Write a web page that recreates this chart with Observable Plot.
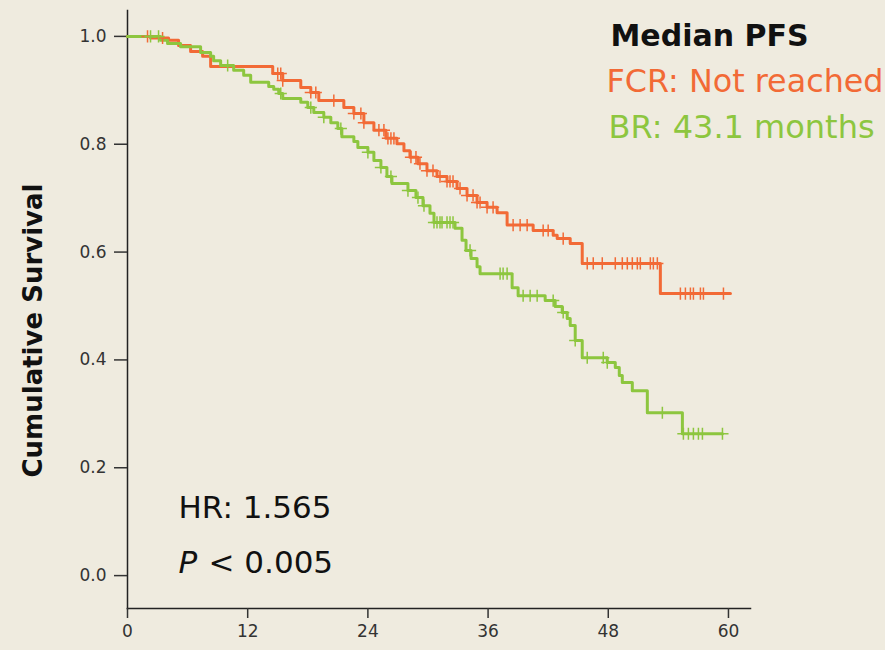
<!DOCTYPE html>
<html>
<head>
<meta charset="utf-8">
<script src="https://cdn.jsdelivr.net/npm/d3@7"></script>
<script src="https://cdn.jsdelivr.net/npm/@observablehq/plot@0.6"></script>
<style>
  html, body { margin: 0; padding: 0; background: #efebdf; }
  #chart { width: 885px; height: 650px; }
</style>
</head>
<body>
<div id="chart"></div>
<script>
// ---- Data ----
const xTicks = [0, 12, 24, 36, 48, 60];
const yTicks = [0, 0.2, 0.4, 0.6, 0.8, 1.0];

// FCR step function: time (months) at which the level starts, and level
const fcrTime = [0, 2.3, 4.1, 5.1, 6.3, 7.5, 8.3, 14.5, 15.5, 17.3, 18.3, 19.1, 21.6, 22.6, 23.6, 24.6, 25.8, 26.9, 27.6, 28.2, 29.0, 29.9, 30.9, 31.9, 32.9, 33.9, 34.9, 35.9, 36.9, 37.9, 40.5, 42.5, 42.9, 44.2, 45.4, 53.2, 60.2];
const fcrSurv = [1.0, 0.997, 0.993, 0.983, 0.972, 0.963, 0.944, 0.931, 0.918, 0.905, 0.896, 0.881, 0.868, 0.857, 0.840, 0.826, 0.811, 0.801, 0.788, 0.776, 0.764, 0.751, 0.740, 0.731, 0.718, 0.705, 0.692, 0.683, 0.673, 0.650, 0.640, 0.631, 0.625, 0.616, 0.579, 0.523, 0.523];

// BR step function
const brTime = [0, 3.3, 4.0, 5.3, 7.3, 8.3, 8.6, 9.3, 10.6, 11.6, 12.3, 14.1, 14.6, 15.1, 15.5, 17.3, 18.0, 18.6, 19.6, 20.3, 21.0, 21.4, 22.6, 23.0, 24.0, 24.6, 25.3, 25.9, 26.4, 28.0, 28.8, 29.5, 30.2, 30.6, 32.7, 33.4, 33.8, 34.3, 34.9, 35.2, 38.4, 39.0, 41.7, 42.7, 43.4, 43.9, 44.2, 44.7, 45.4, 47.9, 48.7, 49.1, 49.4, 50.4, 51.9, 55.4, 59.4];
const brSurv = [1.0, 0.993, 0.987, 0.981, 0.970, 0.963, 0.955, 0.946, 0.937, 0.928, 0.915, 0.907, 0.902, 0.894, 0.885, 0.878, 0.868, 0.859, 0.850, 0.840, 0.829, 0.814, 0.805, 0.794, 0.785, 0.770, 0.757, 0.740, 0.727, 0.714, 0.701, 0.686, 0.672, 0.655, 0.644, 0.622, 0.603, 0.588, 0.573, 0.560, 0.534, 0.519, 0.510, 0.499, 0.488, 0.477, 0.464, 0.436, 0.404, 0.395, 0.386, 0.371, 0.358, 0.343, 0.302, 0.263, 0.263];

// Censoring times
const fcrCensor = [2.0, 3.5, 15.0, 15.3, 15.5, 18.3, 18.8, 20.6, 22.6, 23.3, 23.6, 25.1, 25.6, 26.0, 26.3, 26.6, 28.3, 28.8, 29.2, 29.9, 30.5, 31.2, 31.9, 32.2, 32.5, 33.2, 33.9, 34.5, 34.9, 35.2, 35.9, 36.5, 38.5, 39.2, 39.9, 41.5, 42.0, 43.5, 45.9, 46.5, 47.4, 48.7, 49.4, 49.9, 50.4, 50.9, 51.2, 52.2, 52.5, 52.9, 55.2, 55.7, 56.2, 56.5, 57.2, 57.5, 59.5];
const brCensor = [2.3, 3.1, 10.0, 15.3, 18.3, 19.6, 21.3, 24.0, 25.3, 26.3, 28.0, 29.0, 29.6, 30.6, 30.9, 31.2, 31.4, 31.9, 32.2, 32.5, 34.2, 37.2, 37.5, 37.9, 39.5, 40.2, 40.9, 42.5, 43.5, 44.7, 45.9, 47.5, 47.9, 53.4, 55.5, 56.0, 56.5, 57.0, 57.4, 59.4];

const groups = ["FCR", "BR"];
const colors = ["#f26a36", "#8dc63f"];

const yTitle = "Cumulative Survival";
const medianTitle = "Median PFS";
const medianLines = ["FCR: Not reached", "BR: 43.1 months"];
const hrText = "HR: 1.565";
const pItalic = "P";
const pRest = "< 0.005";

// ---- Build tables ----
function levelAt(times, survs, t) {
  let v = survs[0];
  for (let i = 0; i < times.length; i++) if (times[i] <= t) v = survs[i];
  return v;
}
const curves = [
  ...fcrTime.map((t, i) => ({group: "FCR", t, s: fcrSurv[i]})),
  ...brTime.map((t, i) => ({group: "BR", t, s: brSurv[i]}))
];
const censors = [
  ...fcrCensor.map(t => ({group: "FCR", t, s: levelAt(fcrTime, fcrSurv, t)})),
  ...brCensor.map(t => ({group: "BR", t, s: levelAt(brTime, brSurv, t)}))
];

const font = "'DejaVu Sans', Verdana, sans-serif";
const ann = (txt, opts) => Plot.text([txt], {frameAnchor: "top-left", lineAnchor: "bottom", textAnchor: "start", ...opts});
const fmtY = d3.format(".1f");

const chart = Plot.plot({
  width: 885,
  height: 650,
  marginLeft: 127,
  marginRight: 135,
  marginTop: 10,
  marginBottom: 42,
  style: {background: "#efebdf", fontFamily: font, color: "#333"},
  x: {domain: [0, 62.2], ticks: xTicks},
  y: {domain: [-0.061, 1.048], ticks: yTicks},
  color: {domain: groups, range: colors},
  marks: [
    Plot.frame({anchor: "left", stroke: "#222", strokeWidth: 1.5}),
    Plot.frame({anchor: "bottom", stroke: "#222", strokeWidth: 1.5}),
    Plot.axisX({ticks: xTicks, tickSize: 10, tickFormat: () => "", label: null, stroke: "#333", strokeWidth: 1.5}),
    Plot.axisY({ticks: yTicks, tickSize: 13, tickFormat: () => "", label: null, stroke: "#333", strokeWidth: 1.5}),
    // tick labels
    Plot.text(yTicks, {x: 0, y: d => d, text: d => fmtY(d), textAnchor: "end", dx: -21, fontSize: 17, fill: "#333"}),
    Plot.text(xTicks, {x: d => d, frameAnchor: "bottom", dy: 28, text: d => String(d), textAnchor: "middle", fontSize: 17, fill: "#333"}),
    Plot.text([yTitle], {frameAnchor: "left", textAnchor: "middle", dx: -94, dy: 21, rotate: -90, fontSize: 26, fontWeight: "bold", fill: "#111"}),
    Plot.line(curves, {x: "t", y: "s", z: "group", stroke: "group", curve: "step-after", strokeWidth: 3}),
    Plot.dot(censors, {x: "t", y: "s", stroke: "group", symbol: "plus", r: 4, strokeWidth: 1.5}),
    ann(medianTitle, {dx: 483, dy: 35, fontSize: 30, fontWeight: "bold", fill: "#111"}),
    ann(medianLines[0], {dx: 479, dy: 81, fontSize: 31.8, fill: colors[0]}),
    ann(medianLines[1], {dx: 481, dy: 127, fontSize: 32, fill: colors[1]}),
    ann(hrText, {dx: 51, dy: 507, fontSize: 31, fill: "#111"}),
    ann(pItalic, {dx: 51, dy: 562, fontSize: 31, fontStyle: "italic", fill: "#111"}),
    ann(pRest, {dx: 81, dy: 562, fontSize: 31, fill: "#111"})
  ]
});
document.getElementById("chart").appendChild(chart);
</script>
</body>
</html>
